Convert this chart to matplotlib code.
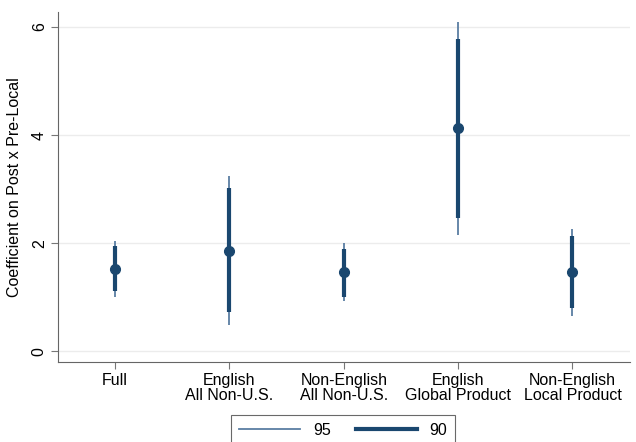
import matplotlib.pyplot as plt
from matplotlib.lines import Line2D

plt.rcParams['font.family'] = ['Liberation Sans', 'DejaVu Sans']

# point estimates and confidence bounds per sample
samples = ["Full", "English\nAll Non-U.S.", "Non-English\nAll Non-U.S.",
           "English\nGlobal Product", "Non-English\nLocal Product"]
coef = [1.52, 1.86, 1.46, 4.13, 1.46]
lo95 = [1.01, 0.49, 0.92, 2.15, 0.66]
hi95 = [2.04, 3.25, 2.00, 6.10, 2.26]
lo90 = [1.11, 0.72, 1.00, 2.47, 0.80]
hi90 = [1.95, 3.02, 1.90, 5.78, 2.14]

navy = '#1a476f'
light = '#5a7ea3'
x = range(1, len(samples) + 1)
fs = 11.5

fig = plt.figure(figsize=(6.36, 4.42), dpi=100)
ax = fig.add_axes([0.091, 0.181, 0.899, 0.792])

ax.vlines(x, lo95, hi95, color=light, lw=1.3, zorder=2)
ax.vlines(x, lo90, hi90, color=navy, lw=3.0, zorder=3)
ax.plot(x, coef, 'o', color=navy, ms=7, zorder=4)

ax.set_xlim(0.5, 5.5)
ax.set_ylim(-0.2, 6.28)
ax.set_yticks([0, 2, 4, 6])
ax.set_xticks(list(x))
ax.set_xticklabels(samples, fontsize=fs, linespacing=0.95)
for lab in ax.get_yticklabels():
    lab.set_rotation(90)
    lab.set_va('center')
ax.tick_params(axis='y', labelsize=fs, color='#777777', length=5, pad=3)
ax.tick_params(axis='x', color='#777777', length=5, pad=3)
ax.set_ylabel("Coefficient on Post x Pre-Local", fontsize=fs, labelpad=7)
ax.grid(axis='y', color='#ececec', lw=1)
ax.set_axisbelow(True)
for s in ['top', 'right']:
    ax.spines[s].set_visible(False)
for s in ['left', 'bottom']:
    ax.spines[s].set_color('#666666')

handles = [Line2D([], [], color=light, lw=1.3),
           Line2D([], [], color=navy, lw=3.0)]
leg = fig.legend(handles, ["95", "90"], loc='upper center', ncol=2,
                 bbox_to_anchor=(0.54, 0.061), fontsize=fs,
                 frameon=True, fancybox=False, handlelength=3.8,
                 columnspacing=1.6, borderpad=0.5, borderaxespad=0,
                 handletextpad=0.8)
leg.get_frame().set_edgecolor('#444444')
leg.get_frame().set_linewidth(0.8)

fig.savefig("out.png", dpi=100)
